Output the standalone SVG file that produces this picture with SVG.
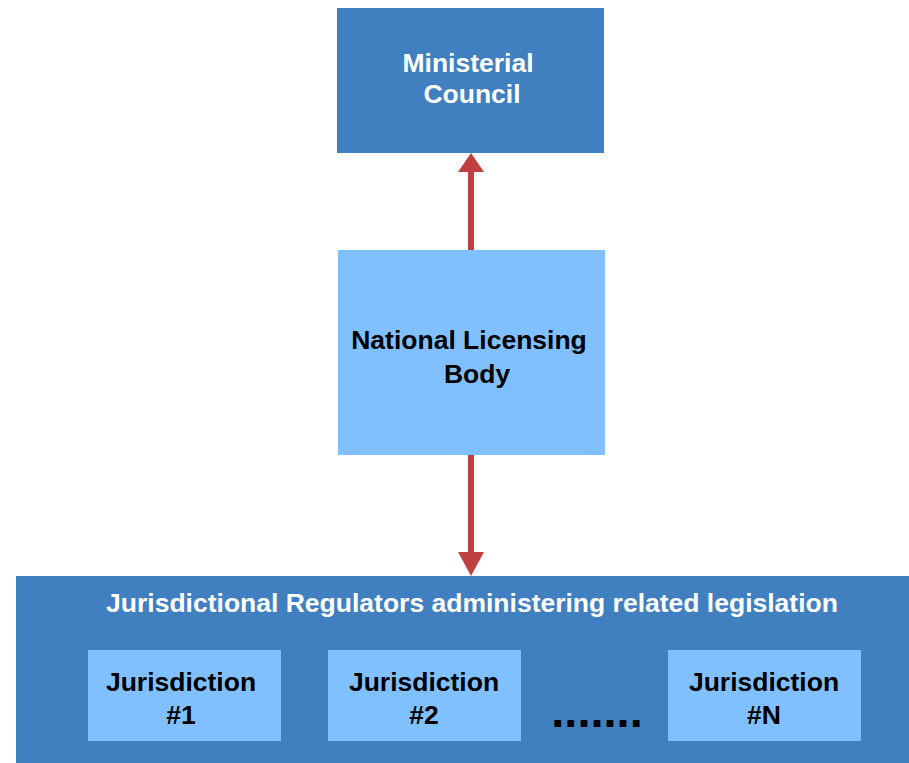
<svg xmlns="http://www.w3.org/2000/svg" width="909" height="763" viewBox="0 0 909 763">
<style>
.dark{fill:#4080C0}
.light{fill:#80C0FF}
text{font-family:"Liberation Sans",Arial,sans-serif;font-weight:bold;font-size:26.5px;text-anchor:middle}
.w{fill:#FFFFFF}
.b{fill:#000000}
.conn{stroke:#C04040;stroke-width:6;fill:none}
.head{fill:#C04040}
</style>
<rect width="909" height="763" fill="#FFFFFF"/>
<g id="jurisdictional-regulators">
<rect class="dark" x="16" y="576" width="893" height="187"/>
<text class="w" x="472" y="612">Jurisdictional Regulators administering related legislation</text>
</g>
<g id="ministerial-council">
<rect class="dark" x="337" y="8" width="267" height="145"/>
<text class="w" x="468" y="72">Ministerial</text>
<text class="w" x="472" y="103">Council</text>
</g>
<g id="national-licensing-body">
<rect class="light" x="338" y="250" width="267" height="205"/>
<text class="b" x="469" y="349">National Licensing</text>
<text class="b" x="477" y="383">Body</text>
</g>
<g id="jurisdiction-1">
<rect class="light" x="88" y="650" width="193" height="91"/>
<text class="b" x="181" y="691">Jurisdiction</text>
<text class="b" x="181" y="724">#1</text>
</g>
<g id="jurisdiction-2">
<rect class="light" x="328" y="650" width="193" height="91"/>
<text class="b" x="424" y="691">Jurisdiction</text>
<text class="b" x="424" y="724">#2</text>
</g>
<g id="jurisdiction-n">
<rect class="light" x="668" y="650" width="193" height="91"/>
<text class="b" x="764" y="691">Jurisdiction</text>
<text class="b" x="764" y="724">#N</text>
</g>
<g id="ellipsis">
<text class="b" x="597" y="727" style="font-size:47px">.......</text>
</g>
<g id="connectors">
<line class="conn" x1="471" y1="250" x2="471" y2="170"/>
<polygon class="head" points="471,153 484,172 458,172"/>
<line class="conn" x1="471" y1="455" x2="471" y2="554"/>
<polygon class="head" points="471,576 484,552 458,552"/>
</g>
</svg>
